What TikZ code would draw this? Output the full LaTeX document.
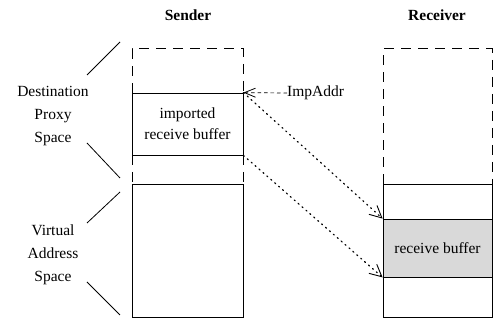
\documentclass[tikz,border=0pt]{standalone}
\usepackage{fontspec}
\setmainfont{Liberation Serif}
\usetikzlibrary{arrows.meta}
\begin{document}
\begin{tikzpicture}[x=1pt,y=-1pt,
  every node/.style={font=\fontsize{15.5}{23}\selectfont},
  frame/.style={line width=0.8pt},
  dashframe/.style={line width=1pt, dash pattern=on 10pt off 7pt},
  bracket/.style={line width=0.8pt},
  title/.style={font=\fontsize{15.5}{18}\selectfont\bfseries},
  sidelabel/.style={align=center},
  buffer/.style={draw, line width=0.8pt, rectangle, inner sep=0pt, align=center,
    font=\fontsize{15.5}{21}\selectfont},
  maparrow/.style={line width=1.2pt, line cap=round, dash pattern=on 1.2pt off 4pt,
    -{Straight Barb[length=12pt,width=12pt,line width=0.9pt]}},
  addrarrow/.style={line width=0.7pt, dash pattern=on 3.5pt off 3pt,
    -{Straight Barb[length=11pt,width=9pt,line width=0.8pt]}}
]
\useasboundingbox (0,0) rectangle (493,320);

% column titles
\node[title] (sendertitle) at (188,15) {Sender};
\node[title] (receivertitle) at (437,15) {Receiver};

% sender: proxy space (dashed) and virtual address space (solid)
\draw[dashframe] (132,93) -- (132,49) -- (243,49) -- (243,93);
\draw[dashframe] (132,155) -- (132,184);
\draw[dashframe] (243,155) -- (243,184);
\draw[frame] (132,184) rectangle (243,317);

\node[buffer, minimum width=111pt, minimum height=62pt] (imp) at (187.5,124)
  {imported\\receive buffer};

% receiver: proxy space (dashed) and virtual address space (solid)
\draw[dashframe] (383,184) -- (383,49) -- (492,49) -- (492,184);
\draw[frame] (383,184) rectangle (492,317);
\node[buffer, fill=gray!30, minimum width=109pt, minimum height=58pt] (rb) at (437.5,248)
  {receive buffer};

% side labels with their brackets
\node[sidelabel] (dps) at (53,116) {Destination\\Proxy\\Space};
\node[sidelabel] (vas) at (53,255) {Virtual\\Address\\Space};
\draw[bracket] (87,75) -- (120,42);
\draw[bracket] (87,143) -- (120,178);
\draw[bracket] (87,223) -- (120,192);
\draw[bracket] (87,282) -- (120,315);

% imported address pointer
\node[anchor=west, inner sep=0pt] (impaddr) at (287,93) {ImpAddr};
\draw[addrarrow] (impaddr.west) -- (imp.north east);

% mapping of the imported buffer onto the receive buffer
\draw[maparrow] (imp.north east) -- (rb.north west);
\draw[maparrow] (imp.south east) -- (rb.south west);
\end{tikzpicture}
\end{document}
